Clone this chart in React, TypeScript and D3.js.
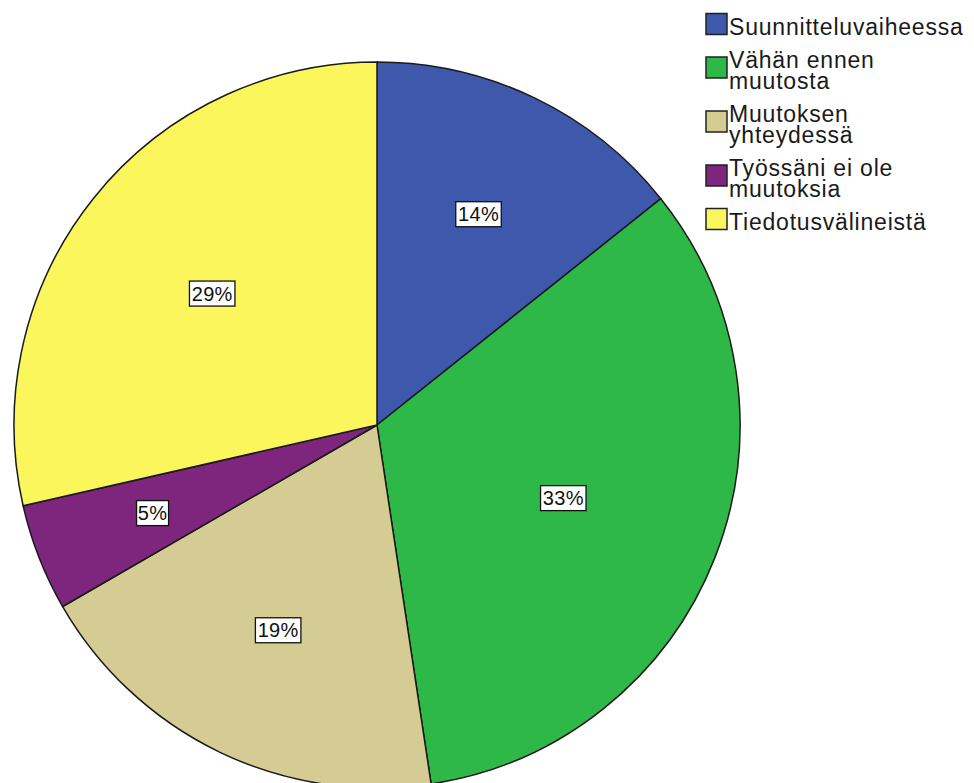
import React from "react";
import * as d3 from "d3";

const categories = [
  "Suunnitteluvaiheessa",
  "Vähän ennen muutosta",
  "Muutoksen yhteydessä",
  "Työssäni ei ole muutoksia",
  "Tiedotusvälineistä",
];
const legendLines = [
  ["Suunnitteluvaiheessa"],
  ["Vähän ennen", "muutosta"],
  ["Muutoksen", "yhteydessä"],
  ["Työssäni ei ole", "muutoksia"],
  ["Tiedotusvälineistä"],
];
const counts = [3, 7, 4, 1, 6];
const colors = ["#3E58AC", "#2EB848", "#D4CC93", "#7E257E", "#FBF65C"];

const W = 974;
const H = 783;
const cx = 377;
const cy = 425;
const R = 363;

export default function App() {
  const total = d3.sum(counts);
  const pie = d3.pie<number>().sort(null).value((d) => d).startAngle(0).endAngle(2 * Math.PI);
  const arcs = pie(counts);
  const arcGen = d3.arc<d3.PieArcDatum<number>>().innerRadius(0).outerRadius(R);
  const fmt = (v: number) => `${Math.round((v / total) * 100)}%`;

  const lineH = 21;
  const itemGap = 33;
  let base = 35;
  const legendItems = legendLines.map((lines, i) => {
    const first = base;
    base += (lines.length - 1) * lineH + itemGap;
    return { lines, first, i, name: categories[i] };
  });

  const font = "'Liberation Sans', Arial, sans-serif";

  return (
    <svg
      width={W}
      height={H}
      style={{ position: "absolute", left: 0, top: 0, display: "block", background: "#fff" }}
    >
      <g transform={`translate(${cx},${cy})`}>
        {arcs.map((a, i) => (
          <path key={i} d={arcGen(a) || ""} fill={colors[i]} stroke="#1a1a1a" strokeWidth={1.5} strokeLinejoin="round" />
        ))}
        {arcs.map((a, i) => {
          const half = (a.endAngle - a.startAngle) / 2;
          const mid = (a.endAngle + a.startAngle) / 2;
          const d = (2 * R * Math.sin(half)) / (3 * half);
          const x = d * Math.sin(mid);
          const y = -d * Math.cos(mid);
          const label = fmt(a.value);
          const w = label.length * 13.5 + 5;
          const h = 25;
          return (
            <g key={"l" + i} transform={`translate(${x},${y})`}>
              <rect x={-w / 2} y={-h / 2} width={w} height={h} fill="#fff" stroke="#111" strokeWidth={1.3} />
              <text
                x={0}
                y={7}
                textAnchor="middle"
                fontFamily={font}
                fontSize={20}
                letterSpacing={0.3}
                fill="#111"
              >
                {label}
              </text>
            </g>
          );
        })}
      </g>
      <g>
        {legendItems.map(({ lines, first, i }) => {
          const last = first + (lines.length - 1) * lineH;
          const centre = (first + last) / 2 - 11;
          return (
            <g key={"lg" + i}>
              <rect x={706} y={centre - 10.5} width={21} height={21} fill={colors[i]} stroke="#222" strokeWidth={1.5} />
              {lines.map((t, j) => (
                <text
                  key={j}
                  x={729}
                  y={first + j * lineH}
                  fontFamily={font}
                  fontSize={23}
                  letterSpacing={0.8}
                  fill="#1a1a1a"
                >
                  {t}
                </text>
              ))}
            </g>
          );
        })}
      </g>
    </svg>
  );
}
